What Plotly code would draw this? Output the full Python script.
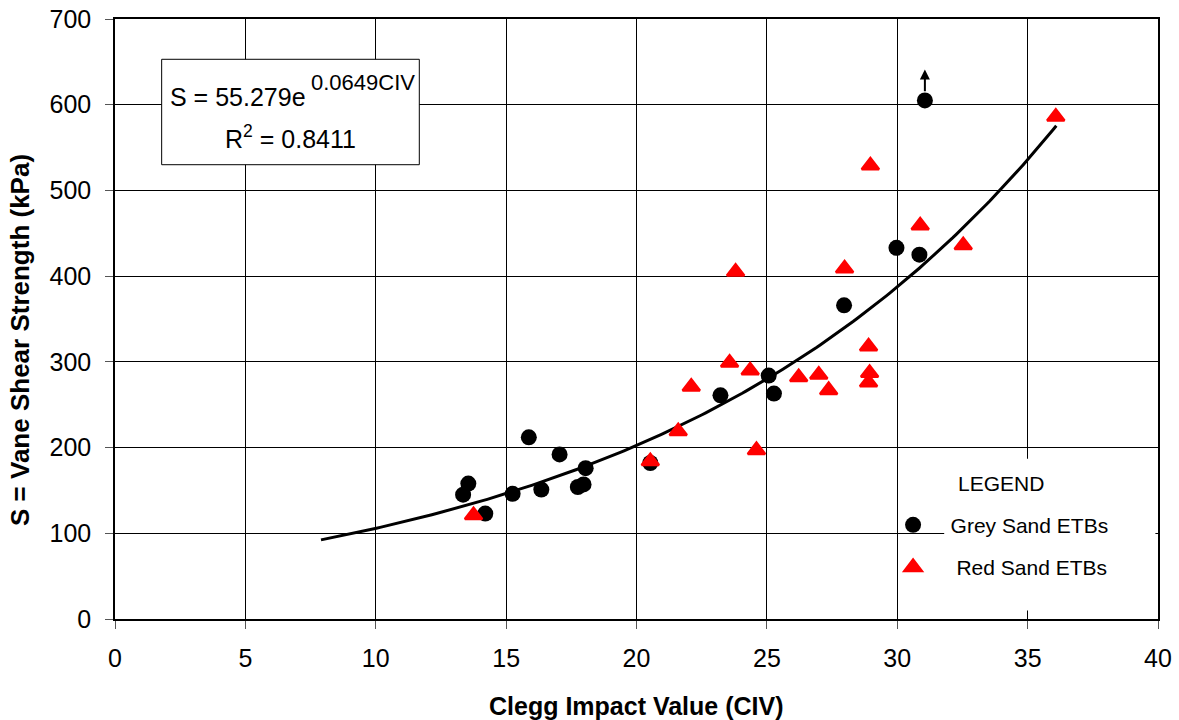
import numpy as np
import plotly.graph_objects as go

# Grey Sand ETBs
grey_x = [13.35, 13.55, 14.2, 15.25, 15.87, 16.35, 17.05, 17.75, 17.97, 18.05,
          20.53, 23.22, 25.07, 25.27, 27.96, 29.97, 30.85, 31.06]
grey_y = [145, 158, 123, 146, 212, 151, 192, 154, 157, 176,
          182, 261, 284, 263, 366, 433, 425, 605]

# Red Sand ETBs
red_x = [13.75, 20.53, 21.6, 22.1, 23.57, 23.8, 24.36, 24.6, 26.22, 26.99,
         27.37, 27.98, 28.9, 28.94, 28.9, 28.97, 30.88, 32.53, 36.08]
red_y = [121, 184, 219, 271, 299, 405, 290, 197, 282, 285,
         267, 409, 318, 287, 276, 529, 459, 436, 586]

# Exponential trendline shown on chart: S = 55.279 e^(0.0649 CIV)
fit_a = 55.279
fit_b = 0.0649
fit_r2 = 0.8411
fit_xmin, fit_xmax = 7.9, 36.1

x_ticks = [0, 5, 10, 15, 20, 25, 30, 35, 40]
y_ticks = [0, 100, 200, 300, 400, 500, 600, 700]

FONT = "Liberation Sans, Arial, sans-serif"
NB = "\u00a0"

fx = np.linspace(fit_xmin, fit_xmax, 200)
fy = fit_a * np.exp(fit_b * fx)

fig = go.Figure()
fig.add_trace(go.Scatter(x=fx, y=fy, mode="lines", line=dict(color="black", width=3),
                         showlegend=False, hoverinfo="skip"))
fig.add_trace(go.Scatter(x=grey_x, y=grey_y, mode="markers", name=NB * 3 + "Grey Sand ETBs",
                         legendgroup="g", marker=dict(symbol="circle", size=16, color="black")))
fig.add_trace(go.Scatter(x=red_x, y=red_y, mode="markers", name=NB * 4 + "Red Sand ETBs",
                         legendgroup="r",
                         marker=dict(symbol="triangle-up", size=15, color="red",
                                     line=dict(color="red", width=2.5))))

# arrow above the top grey point
fig.add_annotation(x=grey_x[-1], y=641, ax=grey_x[-1], ay=614, xref="x", yref="y",
                   axref="x", ayref="y", text="", showarrow=True, arrowhead=2,
                   arrowsize=1, arrowwidth=2, arrowcolor="black", standoff=0, startstandoff=0)

# equation box
fig.add_shape(type="rect", x0=1.79, x1=11.67, y0=530, y1=653, xref="x", yref="y",
              line=dict(color="black", width=1), fillcolor="white", layer="between")
fig.add_annotation(x=2.03, y=609.5, xref="x", yref="y",
                   text=f"S = {fit_a}e", showarrow=False,
                   font=dict(family=FONT, size=25, color="black"), xanchor="left", yanchor="middle")
fig.add_annotation(x=7.45, y=626, xref="x", yref="y",
                   text=f"{fit_b}CIV", showarrow=False,
                   font=dict(family=FONT, size=22, color="black"), xanchor="left", yanchor="middle")
fig.add_annotation(x=6.73, y=562, xref="x", yref="y",
                   text=f"R<sup>2</sup> = {fit_r2}", showarrow=False,
                   font=dict(family=FONT, size=25, color="black"), xanchor="center", yanchor="middle")

# white backdrop behind legend labels
fig.add_shape(type="rect", x0=31.8, x1=39.9, y0=10, y1=187, xref="x", yref="y",
              line=dict(width=0), fillcolor="white", layer="between")
fig.add_annotation(x=33.97, y=158.4, xref="x", yref="y", text="LEGEND", showarrow=False,
                   font=dict(family=FONT, size=21, color="black"), xanchor="center", yanchor="middle")

# axis titles
fig.add_annotation(x=0.5, y=0, xref="paper", yref="paper", yshift=-87,
                   text="<b>Clegg Impact Value (CIV)</b>", showarrow=False,
                   font=dict(family=FONT, size=25, color="black"), xanchor="center", yanchor="middle")
fig.add_annotation(x=0, y=(619 - 340) / 600, xref="paper", yref="paper", xshift=-95,
                   text="<b>S = Vane Shear Strength (kPa)</b>", showarrow=False, textangle=-90,
                   font=dict(family=FONT, size=26, color="black"), xanchor="center", yanchor="middle")

axis_common = dict(showgrid=True, gridcolor="black", gridwidth=1, showline=True,
                   linecolor="black", linewidth=1.5, mirror=True, ticks="outside",
                   ticklen=8, tickwidth=1, tickcolor="#555", zeroline=False, automargin=False,
                   ticklabeloverflow="allow",
                   tickfont=dict(family=FONT, size=25, color="black"))

fig.update_xaxes(range=[0, 40], tickvals=x_ticks, ticklabelstandoff=8, **axis_common)
fig.update_yaxes(range=[0, 700], tickvals=y_ticks, ticklabelstandoff=9, **axis_common)

fig.update_layout(
    width=1179, height=720,
    margin=dict(l=115, r=21, t=19, b=101),
    paper_bgcolor="white", plot_bgcolor="white",
    font=dict(family=FONT, color="black"),
    legend=dict(x=0.746, y=0.1905, xanchor="left", yanchor="top",
                bgcolor="rgba(0,0,0,0)", font=dict(family=FONT, size=21, color="black"),
                tracegroupgap=12),
)

# remove the default 8px page margin so the figure fills the window exactly
fig.write_html("out.html", config=dict(displayModeBar=False),
               post_script="document.body.style.margin='0';")
